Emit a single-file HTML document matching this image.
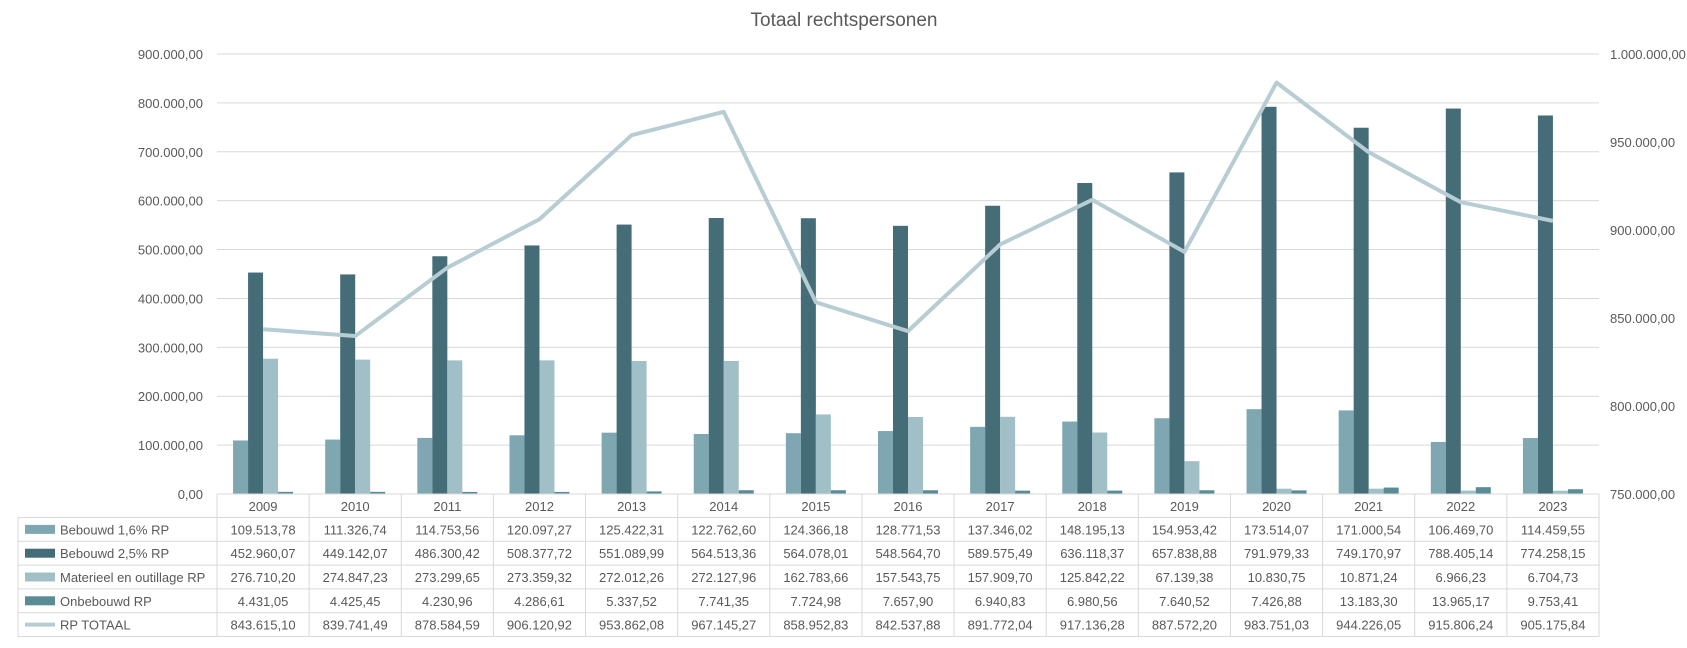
<!DOCTYPE html>
<html><head><meta charset="utf-8"><style>
body{margin:0;background:#fff;}
svg text{font-family:"Liberation Sans","DejaVu Sans",sans-serif;fill:#595959;}
</style></head><body>
<svg id="chart" width="1687" height="643" xmlns="http://www.w3.org/2000/svg">
<text x="844" y="26" text-anchor="middle" font-size="19">Totaal rechtspersonen</text>
<g id="grid"></g><g id="bars"></g><g id="line"></g><g id="axes"></g><g id="table"></g>
</svg>
<script>
const categories=["2009","2010","2011","2012","2013","2014","2015","2016","2017","2018","2019","2020","2021","2022","2023"];
const bebouwd16=[109513.78,111326.74,114753.56,120097.27,125422.31,122762.60,124366.18,128771.53,137346.02,148195.13,154953.42,173514.07,171000.54,106469.70,114459.55];
const bebouwd25=[452960.07,449142.07,486300.42,508377.72,551089.99,564513.36,564078.01,548564.70,589575.49,636118.37,657838.88,791979.33,749170.97,788405.14,774258.15];
const materieel=[276710.20,274847.23,273299.65,273359.32,272012.26,272127.96,162783.66,157543.75,157909.70,125842.22,67139.38,10830.75,10871.24,6966.23,6704.73];
const onbebouwd=[4431.05,4425.45,4230.96,4286.61,5337.52,7741.35,7724.98,7657.90,6940.83,6980.56,7640.52,7426.88,13183.30,13965.17,9753.41];
const totaal=[843615.10,839741.49,878584.59,906120.92,953862.08,967145.27,858952.83,842537.88,891772.04,917136.28,887572.20,983751.03,944226.05,915806.24,905175.84];
const leftTicks=[0,100000,200000,300000,400000,500000,600000,700000,800000,900000];
const rightTicks=[750000,800000,850000,900000,950000,1000000];
const seriesNames=["Bebouwd 1,6% RP","Bebouwd 2,5% RP","Materieel en outillage RP","Onbebouwd RP","RP TOTAAL"];

const NS="http://www.w3.org/2000/svg";
const X0=217,X1=1599,Y0=494,YT=54;
const colors=["#7fa7b1","#456d77","#a0bfc6","#5a8c96","#b7cdd3"];
const cw=(X1-X0)/categories.length;
const yL=v=>Y0-(v/900000)*(Y0-YT);
const yR=v=>Y0-((v-750000)/250000)*(Y0-YT);
const xC=i=>X0+cw*(i+0.5);
function fmt(v){let [a,b]=v.toFixed(2).split(".");a=a.replace(/\B(?=(\d{3})+(?!\d))/g,".");return a+","+b;}
function mk(tag,attrs,parent,txt){const e=document.createElementNS(NS,tag);for(const k in attrs)e.setAttribute(k,attrs[k]);if(txt!==undefined)e.textContent=txt;parent.appendChild(e);return e;}
const grid=document.getElementById('grid'),bars=document.getElementById('bars'),line=document.getElementById('line'),axes=document.getElementById('axes'),table=document.getElementById('table');
leftTicks.forEach(t=>{
  const l=mk('line',{x1:X0,x2:X1,y1:yL(t),y2:yL(t),stroke:'#d9d9d9','stroke-width':1},grid);
  
  
  const tx=mk('text',{x:203,y:yL(t)+5,'text-anchor':'end','font-size':13},axes,fmt(t));
  
  
});
rightTicks.forEach(t=>{
  const tx=mk('text',{x:1610,y:yR(t)+5,'font-size':13},axes,fmt(t));
  
  
});
const series=[bebouwd16,bebouwd25,materieel,onbebouwd];
const bw=15;
categories.forEach((c,i)=>{
  series.forEach((s,k)=>{
    const x=xC(i)-30+k*bw;
    const r=mk('rect',{x:x,y:yL(s[i]),width:bw,height:Y0-yL(s[i]),fill:colors[k]},bars);
    
    
  });
});
const pts=totaal.map((v,i)=>xC(i)+','+yR(v)).join(' ');
const pl=mk('polyline',{points:pts,fill:'none',stroke:colors[4],'stroke-width':4,'stroke-linejoin':'round'},line);


// table
const rowY=[494,517.5,541.3,565.1,588.9,612.7,636.5];
const tl='#d9d9d9';
mk('line',{x1:X0,x2:X1,y1:Y0,y2:Y0,stroke:tl},table);
for(let r=1;r<rowY.length;r++){mk('line',{x1:18,x2:X1,y1:rowY[r],y2:rowY[r],stroke:tl},table);}
mk('line',{x1:18,x2:18,y1:rowY[1],y2:rowY[6],stroke:tl},table);
for(let i=0;i<=categories.length;i++){mk('line',{x1:X0+cw*i,x2:X0+cw*i,y1:Y0,y2:rowY[6],stroke:tl},table);}
categories.forEach((c,i)=>{
  const t=mk('text',{x:xC(i),y:(rowY[0]+rowY[1])/2+5,'text-anchor':'middle','font-size':13},table,c);
  
  
});
const all=[bebouwd16,bebouwd25,materieel,onbebouwd,totaal];
all.forEach((s,k)=>{
  const cy=(rowY[k+1]+rowY[k+2])/2;
  if(k<4){const sw=mk('rect',{x:25,y:cy-4.5,width:30,height:9,fill:colors[k]},table);
    
    }
  else{const sw=mk('line',{x1:25,x2:55,y1:cy,y2:cy,stroke:colors[4],'stroke-width':4},table);
    
    }
  const lt=mk('text',{x:60,y:cy+5,'font-size':13},table,seriesNames[k]);
  
  
  s.forEach((v,i)=>{
    const t=mk('text',{x:xC(i),y:cy+5,'text-anchor':'middle','font-size':13},table,fmt(v));
    
    
  });
});
</script>
</body></html>
